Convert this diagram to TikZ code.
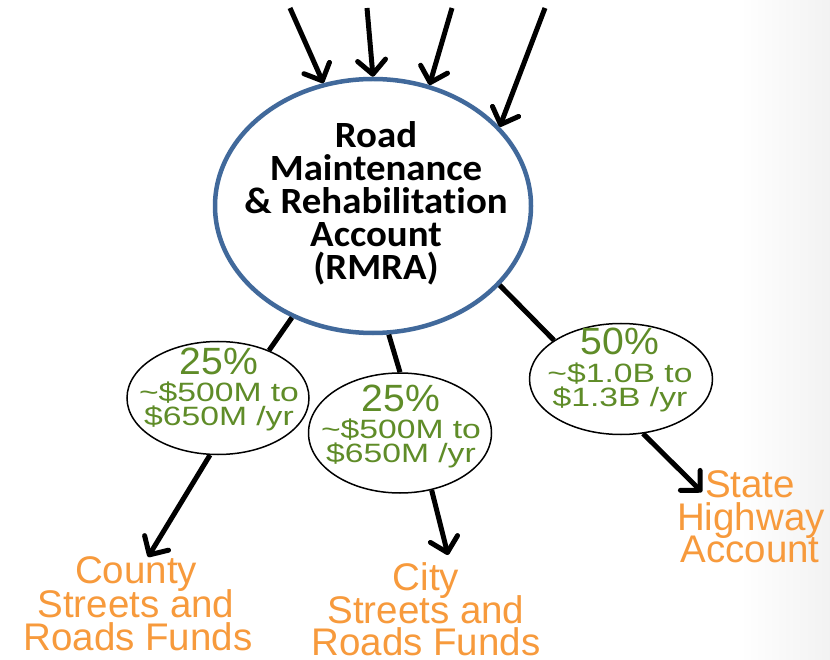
\documentclass[tikz,border=0pt]{standalone}
\usepackage{fontspec}
\usepackage{graphicx}
\usetikzlibrary{shapes.geometric,arrows.meta}
\newfontfamily\arialf{Liberation Sans}
\newfontfamily\calf[Ligatures={NoCommon,NoRequired,NoContextual}]{Carlito}
\definecolor{rmblue}{RGB}{65,105,155}
\definecolor{pctgreen}{RGB}{95,140,40}
\definecolor{fundorange}{RGB}{247,154,60}
\newcommand{\rmline}[1]{\scalebox{1.05}[1]{#1}}
\newcommand{\amtline}[1]{\scalebox{1.27}[1]{#1}}
\newcommand{\pctline}[1]{\scalebox{1.03}[1]{#1}}
\tikzset{
  mainell/.style={ellipse, draw=rmblue, line width=4.5pt, minimum width=316pt, minimum height=254pt, inner sep=0pt, fill=white},
  subell/.style={ellipse, draw=black, line width=1.5pt, minimum width=183pt, minimum height=114pt, inner sep=0pt, fill=white},
  maintext/.style={font=\calf\bfseries\fontsize{37}{37}\selectfont, anchor=base, inner sep=0pt, text=black},
  pcttext/.style={font=\arialf\fontsize{38}{38}\selectfont, anchor=base, inner sep=0pt, text=pctgreen},
  amttext/.style={font=\arialf\fontsize{26.5}{26.5}\selectfont, anchor=base, inner sep=0pt, text=pctgreen},
  fundtext/.style={font=\arialf\fontsize{38.5}{38.5}\selectfont, anchor=base, inner sep=0pt, text=fundorange},
  flow/.style={line width=5pt, draw=black},
  flowarrow/.style={flow, -{Straight Barb[length=14pt,width=28pt,round]}},
}
\begin{document}
\begin{tikzpicture}[x=1pt,y=-1pt]
\useasboundingbox (0,0) rectangle (830,660);
\fill[white] (0,0) rectangle (830,660);
\shade[left color=white, right color=black!5] (740,0) rectangle (830,660);

% main account
\node[mainell] (main) at (373,206) {};
\node[maintext] (m1) at (376,148) {\rmline{Road}};
\node[maintext] (m2) at (376,181) {\rmline{Maintenance}};
\node[maintext] (m3) at (376,214) {\rmline{\& Rehabilitation}};
\node[maintext] (m4) at (376,247) {\rmline{Account}};
\node[maintext] (m5) at (376,280) {\rmline{(RMRA)}};

% shares
\node[subell, minimum width=182pt, minimum height=113pt] (left) at (218,398) {};
\node[subell, minimum width=183pt, minimum height=120pt] (mid) at (400,433) {};
\node[subell, minimum width=183pt, minimum height=111pt] (right) at (621,379) {};

\node[pcttext] (l1) at (219,374) {\pctline{25\%}};
\node[amttext] (l2) at (219,401) {\amtline{\textasciitilde\$500M to}};
\node[amttext] (l3) at (219,425) {\amtline{\$650M /yr}};

\node[pcttext] (c1) at (401,411) {\pctline{25\%}};
\node[amttext] (c2) at (401,438) {\amtline{\textasciitilde\$500M to}};
\node[amttext] (c3) at (401,462) {\amtline{\$650M /yr}};

\node[pcttext] (r1) at (620,355) {\pctline{50\%}};
\node[amttext] (r2) at (620,382) {\amtline{\textasciitilde\$1.0B to}};
\node[amttext] (r3) at (620,406) {\amtline{\$1.3B /yr}};

% destinations
\node[fundtext] (f1) at (136,583) {County};
\node[fundtext] (f2) at (136,617) {Streets and};
\node[fundtext] (f3) at (138,650) {Roads Funds};

\node[fundtext] (g1) at (426,590) {City};
\node[fundtext] (g2) at (426,623) {Streets and};
\node[fundtext] (g3) at (426,655) {Roads Funds};

\node[fundtext] (h1) at (750,497) {State};
\node[fundtext] (h2) at (751,530) {Highway};
\node[fundtext] (h3) at (750,562) {Account};

% incoming arrows
\coordinate (in1) at (290,8);
\coordinate (in2) at (367,8);
\coordinate (in3) at (452,8);
\coordinate (in4) at (545,8);
\draw[flowarrow] (in1) -- (main.112);
\draw[flowarrow] (in2) -- (main.90);
\draw[flowarrow] (in3) -- (main.65);
\draw[flowarrow] (in4) -- (main.32);

% splits
\draw[flow] (main.234) -- (left.43);
\draw[flow] (main.277) -- (mid.90);
\draw[flow] (main.328) -- (right.150);

% outgoing arrows
\coordinate (countytip) at (148,557);
\coordinate (citytip) at (448,555);
\coordinate (statetip) at (702,492);
\draw[flowarrow] (left.262) -- (countytip);
\draw[flowarrow] (mid.299) -- (citytip);
\draw[flowarrow] (right.292) -- (statetip);
\end{tikzpicture}
\end{document}
